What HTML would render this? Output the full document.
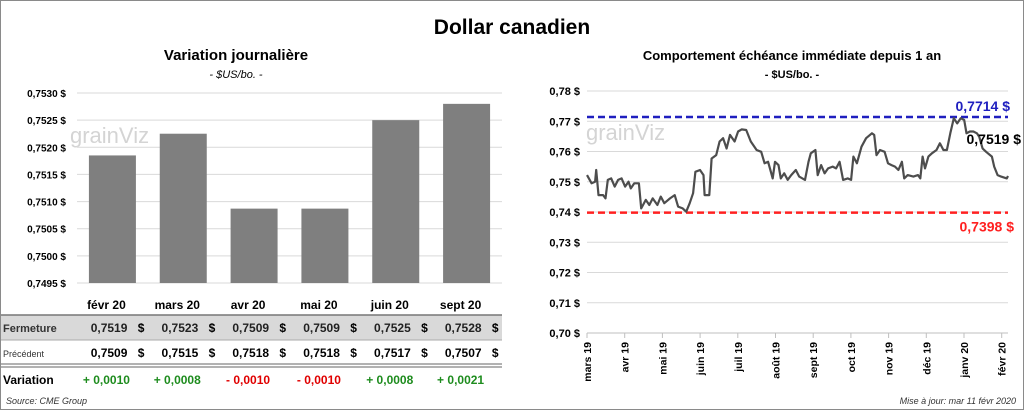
<!DOCTYPE html>
<html><head><meta charset="utf-8"><style>
body{margin:0;background:#fff;}
svg{display:block;font-family:"Liberation Sans",sans-serif;}
</style></head><body>
<svg width="1024" height="410" viewBox="0 0 1024 410" xmlns="http://www.w3.org/2000/svg">
<rect x="0.5" y="0.5" width="1023" height="409" fill="#fff" stroke="#8a8a8a"/>
<text x="512" y="34" text-anchor="middle" font-size="21" font-weight="bold">Dollar canadien</text>
<text x="236" y="60" text-anchor="middle" font-size="15" font-weight="bold">Variation  journalière</text>
<text x="236" y="78" text-anchor="middle" font-size="11" font-style="italic">- $US/bo. -</text>
<text x="792" y="60" text-anchor="middle" font-size="13" font-weight="bold">Comportement échéance immédiate depuis 1 an</text>
<text x="792" y="78" text-anchor="middle" font-size="11" font-weight="bold">- $US/bo. -</text>
<text x="70" y="143" font-size="22" fill="#d4d4d4">grainViz</text>
<text x="586" y="140" font-size="22" fill="#d4d4d4">grainViz</text>
<g id="left"></g>
<g id="table"></g>
<g id="right"></g>
<text x="6" y="404" font-size="9" font-style="italic" fill="#333">Source: CME Group</text>
<text x="1016" y="404" text-anchor="end" font-size="9" font-style="italic" fill="#333">Mise à jour: mar 11 févr 2020</text>
</svg>
<script>
const NS="http://www.w3.org/2000/svg";
const barCats=["févr 20","mars 20","avr 20","mai 20","juin 20","sept 20"];
const barVals=[0.75185,0.75225,0.75087,0.75087,0.7525,0.7528];
const barTicks=[0.7495,0.7500,0.7505,0.7510,0.7515,0.7520,0.7525,0.7530];
const closeVals=["0,7519","0,7523","0,7509","0,7509","0,7525","0,7528"];
const prevVals=["0,7509","0,7515","0,7518","0,7518","0,7517","0,7507"];
const varVals=["+ 0,0010","+ 0,0008","- 0,0010","- 0,0010","+ 0,0008","+ 0,0021"];
const lineDays=[0,4,7,8,10,14,16,18,21,24,27,30,33,36,38,41,45,47,51,54,57,61,64,67,72,76,79,83,86,89,92,94,98,101,102,106,108,112,115,118,121,124,128,131,134,138,142,147,151,154,157,161,163,166,168,171,174,177,181,184,189,192,194,198,200,203,206,209,213,216,219,222,226,229,231,234,238,242,247,249,251,254,258,261,264,267,270,273,275,278,283,287,289,291,293,296,299,303,306,309,312,315,318,321,324,327,329,332,335,338,340,343,346,351,353,356,359,364,365];
const lineVals=[0.7522,0.7495,0.7500,0.7539,0.7456,0.7456,0.7445,0.7506,0.7511,0.7484,0.7506,0.7511,0.7484,0.7500,0.7478,0.7495,0.7495,0.7412,0.7440,0.7423,0.7445,0.7423,0.7451,0.7429,0.7445,0.7456,0.7418,0.7412,0.7401,0.7429,0.7462,0.7533,0.7539,0.7522,0.7456,0.7456,0.7577,0.7588,0.7633,0.7644,0.7610,0.7655,0.7633,0.7666,0.7673,0.7671,0.7633,0.7605,0.7599,0.7561,0.7566,0.7511,0.7566,0.7555,0.7511,0.7528,0.7506,0.7522,0.7539,0.7517,0.7506,0.7566,0.7594,0.7605,0.7522,0.7555,0.7528,0.7544,0.7550,0.7544,0.7566,0.7506,0.7511,0.7506,0.7583,0.7561,0.7616,0.7644,0.7660,0.7655,0.7588,0.7605,0.7599,0.7561,0.7555,0.7550,0.7539,0.7566,0.7511,0.7522,0.7517,0.7522,0.7511,0.7583,0.7544,0.7583,0.7594,0.7605,0.7627,0.7605,0.7605,0.7660,0.7710,0.7693,0.7710,0.7704,0.7660,0.7666,0.7666,0.7660,0.7649,0.7610,0.7599,0.7583,0.7550,0.7522,0.7517,0.7511,0.7519];
const lineTicks=[0.70,0.71,0.72,0.73,0.74,0.75,0.76,0.77,0.78];
const monthLabels=["mars 19","avr 19","mai 19","juin 19","juil 19","août 19","sept 19","oct 19","nov 19","déc 19","janv 20","févr 20"];
const highVal=0.7714, lowVal=0.7398, lastVal=0.7519;

function mk(parent,tag,attrs,txt){const e=document.createElementNS(NS,tag);for(const k in attrs)e.setAttribute(k,attrs[k]);if(txt!=null)e.textContent=txt;parent.appendChild(e);return e;}
const fmt=(v,d)=>v.toFixed(d).replace('.',',');

const L=document.getElementById('left');
const lx0=77,lx1=502,ly=v=>283-(v-0.7495)/0.0035*190;
const cw=(lx1-lx0)/barCats.length, cx=i=>lx0+cw*(i+0.5);
barTicks.forEach(t=>{
  const g=mk(L,'line',{x1:lx0,x2:lx1,y1:ly(t),y2:ly(t),stroke:'#d9d9d9'});
  
  
  const tx=mk(L,'text',{x:66,y:ly(t)+4,'text-anchor':'end','font-size':10,'font-weight':'bold'},fmt(t,4)+' $');
  
  
});
barVals.forEach((v,i)=>{
  const r=mk(L,'rect',{x:cx(i)-23.5,y:ly(v),width:47,height:ly(0.7495)-ly(v),fill:'#7f7f7f'});
  
  
});
const T=document.getElementById('table');
mk(T,'rect',{x:1,y:315,width:501,height:25,fill:'#d9d9d9'});
mk(T,'line',{x1:1,x2:502,y1:315,y2:315,stroke:'#777',"stroke-width":1.5});
mk(T,'line',{x1:1,x2:502,y1:340,y2:340,stroke:'#aaa'});
mk(T,'line',{x1:1,x2:502,y1:364,y2:364,stroke:'#666',"stroke-width":1});
mk(T,'line',{x1:1,x2:502,y1:367,y2:367,stroke:'#666',"stroke-width":1});
let e;
e=mk(T,'text',{x:3,y:332,'font-size':11,'font-weight':'bold',fill:'#333'},'Fermeture');
e=mk(T,'text',{x:3,y:357,'font-size':9,fill:'#333'},'Précédent');
e=mk(T,'text',{x:3,y:384,'font-size':12,'font-weight':'bold'},'Variation');
barCats.forEach((c,i)=>{
  const x=cx(i);
  const h=mk(T,'text',{x:x-6,y:309,'text-anchor':'middle','font-size':12,'font-weight':'bold'},c);
  
  
  const a=mk(T,'text',{x:x+15,y:332,'text-anchor':'end','font-size':12,'font-weight':'bold',fill:'#222'},closeVals[i]);
  
  
  mk(T,'text',{x:x+32,y:332,'text-anchor':'end','font-size':12,'font-weight':'bold'},'$');
  const b=mk(T,'text',{x:x+15,y:357,'text-anchor':'end','font-size':12,'font-weight':'bold'},prevVals[i]);
  
  
  mk(T,'text',{x:x+32,y:357,'text-anchor':'end','font-size':12,'font-weight':'bold'},'$');
  const d=mk(T,'text',{x:x-6,y:384,'text-anchor':'middle','font-size':12,'font-weight':'bold',fill:varVals[i][0]=='+'?'#1e8c1e':'#e00000'},varVals[i]);
  
  
});
const R=document.getElementById('right');
const rx0=587,rx1=1008,ry=v=>333-(v-0.70)/0.08*242,rx=d=>rx0+d*(rx1-rx0)/365;
lineTicks.forEach(t=>{
  const g=mk(R,'line',{x1:rx0,x2:rx1,y1:ry(t),y2:ry(t),stroke:t==0.70?'#bfbfbf':'#d9d9d9'});
  
  
  const tx=mk(R,'text',{x:580,y:ry(t)+4,'text-anchor':'end','font-size':11,'font-weight':'bold'},fmt(t,2)+' $');
  
  
});
monthLabels.forEach((m,i)=>{
  const x=rx0+37.7*i;
  mk(R,'line',{x1:x,x2:x,y1:333,y2:338,stroke:'#bfbfbf'});
  const tx=mk(R,'text',{x:0,y:0,'text-anchor':'end','font-size':10.5,'font-weight':'bold',transform:`translate(${x+4},342) rotate(-90)`},m);
  
  
});
let hl=mk(R,'line',{x1:rx0,x2:rx1,y1:ry(highVal),y2:ry(highVal),stroke:'#1f1fbf','stroke-width':2.5,'stroke-dasharray':'7,4'});

let ll=mk(R,'line',{x1:rx0,x2:rx1,y1:ry(lowVal),y2:ry(lowVal),stroke:'#ff2020','stroke-width':2.5,'stroke-dasharray':'7,4'});

const pts=lineVals.map((v,i)=>rx(lineDays[i]).toFixed(1)+','+ry(v).toFixed(1)).join(' ');
const pl=mk(R,'polyline',{points:pts,fill:'none',stroke:'#4d4d4d','stroke-width':2.2,'stroke-linejoin':'round'});


e=mk(R,'text',{x:1010,y:ry(highVal)-6,'text-anchor':'end','font-size':14,'font-weight':'bold',fill:'#1f1fbf'},fmt(highVal,4)+' $');
e=mk(R,'text',{x:1014,y:ry(lowVal)+19,'text-anchor':'end','font-size':14,'font-weight':'bold',fill:'#ff2020'},fmt(lowVal,4)+' $');
e=mk(R,'text',{x:1021,y:144,'text-anchor':'end','font-size':14,'font-weight':'bold'},fmt(lastVal,4)+' $');
</script>
</body></html>
